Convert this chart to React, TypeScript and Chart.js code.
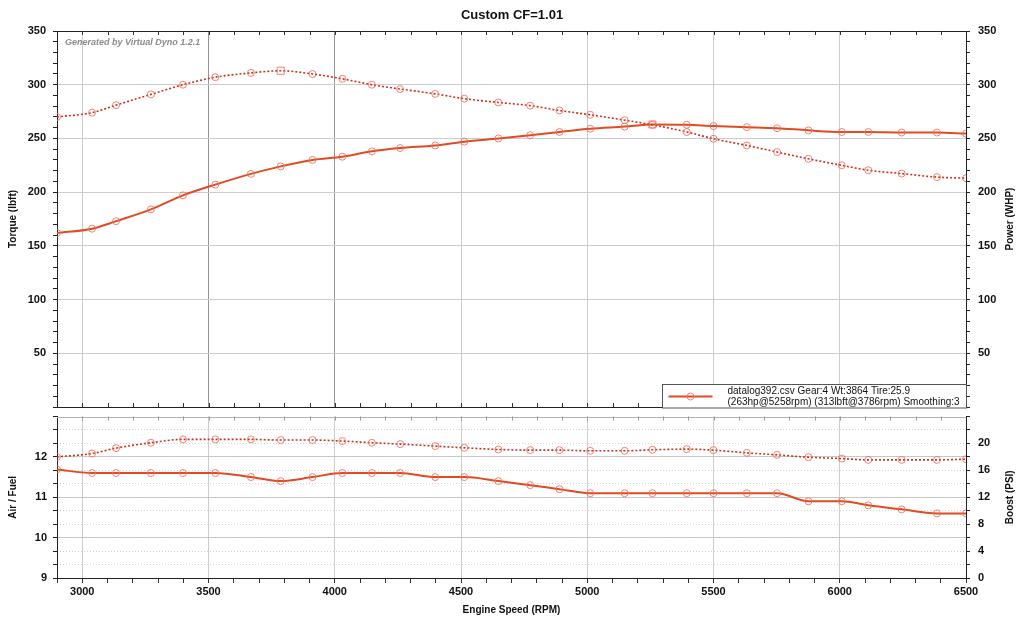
import React, { useEffect, useRef } from "react";
import { Chart, registerables } from "chart.js";

Chart.register(...registerables);

// points (rpm of every marker)
const rpm = [
  2900, 3039, 3134, 3272, 3399, 3527, 3668, 3786, 3912, 4030, 4147, 4259, 4398, 4513, 4648,
  4774, 4890, 5012, 5148, 5258, 5394, 5500, 5632, 5752, 5876, 6008, 6113, 6245, 6385, 6500,
];
const torque = [
  270, 274, 281, 291, 300, 307, 311, 313, 310, 305.5, 300, 296, 291.5, 287, 283.5,
  280.5, 276, 272, 267, 262.7, 256, 249.7, 243.5, 237.3, 231, 225, 220.4, 217.3, 214, 213,
];
const power = [
  162, 166, 173, 184, 197, 207, 217, 224, 230, 233, 238, 241, 243.5, 247, 250,
  253, 256, 259, 261, 263, 262.7, 261.5, 260.5, 259.5, 257.5, 256, 256, 255.5, 255.5, 254.5,
];
const afr = [
  11.69, 11.6, 11.6, 11.6, 11.6, 11.6, 11.5, 11.4, 11.5, 11.6, 11.6, 11.6, 11.5, 11.5, 11.4,
  11.3, 11.2, 11.1, 11.1, 11.1, 11.1, 11.1, 11.1, 11.1, 10.9, 10.9, 10.8, 10.7, 10.6, 10.6,
];
const boost = [
  18, 18.5, 19.3, 20.1, 20.6, 20.6, 20.6, 20.5, 20.5, 20.35, 20.1, 19.9, 19.6, 19.35, 19.1,
  19.0, 19.0, 18.9, 18.9, 19.05, 19.15, 19.0, 18.6, 18.3, 17.95, 17.75, 17.55, 17.55, 17.55, 17.65,
];

const rpmLabels = [3000, 3500, 4000, 4500, 5000, 5500, 6000, 6500];
const torqueLabels = [50, 100, 150, 200, 250, 300, 350];
const afrLabels = [9, 10, 11, 12];
const boostLabels = [0, 4, 8, 12, 16, 20];

const chartTitle = "Custom CF=1.01";
const watermark = "Generated by Virtual Dyno 1.2.1";
const legendLine1 = "datalog392.csv Gear:4 Wt:3864 Tire:25.9";
const legendLine2 = "(263hp@5258rpm) (313lbft@3786rpm) Smoothing:3";

const FONT = "'Liberation Sans', Arial, Helvetica, sans-serif";
const TICK_FONT = { family: FONT, size: 11, weight: "bold" as const };
const AXIS_FONT = { family: FONT, size: 10, weight: "bold" as const };
const SOLID = "#e24a22";
const DOTTED = "#c8321f";
const MARK = "rgba(238, 110, 90, 0.85)";
const GRID = "#cdcdcd";
const NONE = "rgba(0,0,0,0)";

const steps = (min: number, max: number, step: number) => {
  const out: { value: number }[] = [];
  for (let i = 0; min + i * step <= max + 1e-6; i++) out.push({ value: +(min + i * step).toFixed(4) });
  return out;
};
const has = (list: number[], v: number) => list.some((l) => Math.abs(l - v) < 1e-3);
const pts = (ys: number[]) => rpm.map((x, i) => ({ x, y: ys[i] }));

const torquePeak = torque.indexOf(Math.max(...torque));
const powerPeak = power.indexOf(Math.max(...power));

const vGrid = (v: number, dark: boolean) => {
  if (v % 500 !== 0 || v <= 2900 || v >= 6500) return NONE;
  if (dark && (v === 3500 || v === 4000)) return "#959595";
  return GRID;
};

const lineSet = (label: string, ys: number[], axis: string, dotted: boolean, peak = -1) => ({
  label,
  data: pts(ys),
  yAxisID: axis,
  borderColor: dotted ? DOTTED : SOLID,
  borderWidth: dotted ? 1.6 : 2,
  borderDash: dotted ? [2, 2] : [],
  cubicInterpolationMode: "monotone" as const,
  fill: false,
  pointStyle: (c: any) => (c.dataIndex === peak ? "rect" : "circle"),
  pointRadius: (c: any) => (c.dataIndex === peak ? 5 : 3.5),
  pointBorderWidth: 1,
  pointBorderColor: MARK,
  pointBackgroundColor: NONE,
});

const innerTicks = (chart: any, top: boolean, bottom: boolean, color: string) => {
  const { ctx, chartArea: a, scales } = chart;
  ctx.strokeStyle = color;
  ctx.lineWidth = 1;
  ctx.beginPath();
  for (let v = 3000; v < 6500; v += 100) {
    const px = Math.round(scales.x.getPixelForValue(v)) + 0.5;
    if (top) {
      ctx.moveTo(px, a.top);
      ctx.lineTo(px, a.top + 4);
    }
    if (bottom) {
      ctx.moveTo(px, a.bottom);
      ctx.lineTo(px, a.bottom - 4);
    }
  }
  ctx.stroke();
};

// right-hand axis titles read bottom to top, like the left ones
const rightTitle = (chart: any, text: string) => {
  const { ctx, chartArea: a, width } = chart;
  ctx.save();
  ctx.translate(width - 14, (a.top + a.bottom) / 2);
  ctx.rotate(-Math.PI / 2);
  ctx.font = `bold 10px ${FONT}`;
  ctx.fillStyle = "#111";
  ctx.textAlign = "center";
  ctx.textBaseline = "middle";
  ctx.fillText(text, 0, 0);
  ctx.restore();
};

const topDecor = {
  id: "topDecor",
  afterDraw(chart: any) {
    const { ctx, chartArea: a } = chart;
    ctx.save();
    ctx.strokeStyle = "#222";
    ctx.lineWidth = 1;
    ctx.beginPath();
    ctx.moveTo(a.left, Math.round(a.top) + 0.5);
    ctx.lineTo(a.right, Math.round(a.top) + 0.5);
    ctx.stroke();
    innerTicks(chart, true, true, "#333");

    ctx.font = `italic bold 9px ${FONT}`;
    ctx.fillStyle = "#8c8c8c";
    ctx.textAlign = "left";
    ctx.textBaseline = "middle";
    ctx.fillText(watermark, a.left + 8, a.top + 12);

    // legend box in the lower right corner
    const w = 304;
    const h = 23.5;
    const x0 = Math.round(a.right - w) + 0.5;
    const y0 = Math.round(a.bottom - h) + 0.5;
    ctx.fillStyle = "#fff";
    ctx.fillRect(x0, y0, w, h);
    ctx.strokeStyle = "#555";
    ctx.strokeRect(x0, y0, w, h);
    const ly = y0 + 12;
    ctx.strokeStyle = SOLID;
    ctx.lineWidth = 2;
    ctx.beginPath();
    ctx.moveTo(x0 + 6, ly);
    ctx.lineTo(x0 + 50, ly);
    ctx.stroke();
    ctx.strokeStyle = MARK;
    ctx.lineWidth = 1;
    ctx.beginPath();
    ctx.arc(x0 + 28, ly, 3.5, 0, Math.PI * 2);
    ctx.stroke();
    ctx.font = `10px ${FONT}`;
    ctx.fillStyle = "#111";
    ctx.fillText(legendLine1, x0 + 65, y0 + 6.5);
    ctx.fillText(legendLine2, x0 + 65, y0 + 17.5);
    ctx.restore();
    rightTitle(chart, "Power (WHP)");
  },
};

const bottomDecor = {
  id: "bottomDecor",
  afterDraw(chart: any) {
    const { ctx, chartArea: a } = chart;
    ctx.save();
    ctx.strokeStyle = "#b4b4b4";
    ctx.lineWidth = 1;
    ctx.beginPath();
    ctx.moveTo(a.left, Math.round(a.top) + 0.5);
    ctx.lineTo(a.right, Math.round(a.top) + 0.5);
    ctx.stroke();
    innerTicks(chart, true, false, "#999");
    ctx.restore();
    rightTitle(chart, "Boost (PSI)");
  },
};

const fitY = (width: number) => (s: any) => {
  s.width = width;
  s.paddingTop = 0;
  s.paddingBottom = 0;
};
const fitX = (height: number) => (s: any) => {
  s.height = height;
  s.paddingLeft = 0;
  s.paddingRight = 0;
};

const App: React.FC = () => {
  const topRef = useRef<HTMLCanvasElement | null>(null);
  const bottomRef = useRef<HTMLCanvasElement | null>(null);

  useEffect(() => {
    if (!topRef.current || !bottomRef.current) return;

    const top = new Chart(topRef.current, {
      type: "line",
      data: {
        datasets: [
          lineSet("Torque", torque, "y", true, torquePeak),
          lineSet("Power", power, "y1", false, powerPeak),
        ],
      },
      options: {
        responsive: false,
        animation: false,
        events: [],
        layout: { padding: 0 },
        plugins: {
          legend: { display: false },
          tooltip: { enabled: false },
          title: {
            display: true,
            text: chartTitle,
            color: "#111",
            font: { family: FONT, size: 13, weight: "bold" },
            padding: { top: 7.2, bottom: 8.2 },
          },
        },
        scales: {
          x: {
            type: "linear",
            min: 2900,
            max: 6500,
            afterBuildTicks: (s: any) => {
              s.ticks = steps(2900, 6500, 100);
            },
            afterFit: fitX(3.5),
            ticks: { display: false, autoSkip: false },
            grid: { drawTicks: false, color: (c: any) => vGrid(c.tick?.value, true) },
            border: { color: "#222" },
          },
          y: {
            type: "linear",
            position: "left",
            min: 0,
            max: 350,
            afterBuildTicks: (s: any) => {
              s.ticks = steps(0, 350, 10);
            },
            afterFit: fitY(57),
            ticks: {
              autoSkip: false,
              padding: 7,
              color: "#111",
              font: TICK_FONT,
              callback: (v: any) => (has(torqueLabels, v) ? String(v) : ""),
            },
            grid: {
              tickLength: 4,
              tickColor: "#222",
              color: (c: any) => {
                const v = c.tick?.value;
                return v % 50 === 0 && v > 0 && v < 350 ? GRID : NONE;
              },
            },
            border: { color: "#222" },
            title: { display: true, text: "Torque (lbft)", color: "#111", font: AXIS_FONT, padding: { top: 7.4, bottom: 0 } },
          },
          y1: {
            type: "linear",
            position: "right",
            min: 0,
            max: 350,
            afterBuildTicks: (s: any) => {
              s.ticks = steps(0, 350, 10);
            },
            afterFit: fitY(58),
            ticks: {
              autoSkip: false,
              padding: 8,
              color: "#111",
              font: TICK_FONT,
              callback: (v: any) => (has(torqueLabels, v) ? String(v) : ""),
            },
            grid: { drawOnChartArea: false, tickLength: 4, tickColor: "#222" },
            border: { color: "#222" },
          },
        },
      },
      plugins: [topDecor],
    });

    const bottom = new Chart(bottomRef.current, {
      type: "line",
      data: {
        datasets: [
          lineSet("Boost", boost, "boost", true),
          lineSet("Air / Fuel", afr, "afr", false),
        ],
      },
      options: {
        responsive: false,
        animation: false,
        events: [],
        layout: { padding: { top: 6.5, left: 0, right: 0, bottom: 0 } },
        plugins: {
          legend: { display: false },
          tooltip: { enabled: false },
          title: { display: false },
        },
        scales: {
          x: {
            type: "linear",
            min: 2900,
            max: 6500,
            afterBuildTicks: (s: any) => {
              s.ticks = steps(2900, 6500, 100);
            },
            afterFit: fitX(46),
            ticks: {
              autoSkip: false,
              maxRotation: 0,
              minRotation: 0,
              padding: 2,
              color: "#111",
              font: TICK_FONT,
              callback: (v: any) => (has(rpmLabels, v) ? String(v) : ""),
            },
            grid: { tickLength: 5, tickColor: "#333", color: (c: any) => vGrid(c.tick?.value, false) },
            border: { color: "#222" },
            title: { display: true, text: "Engine Speed (RPM)", color: "#111", font: AXIS_FONT, padding: { top: 0, bottom: 8 } },
          },
          afr: {
            type: "linear",
            position: "left",
            min: 9,
            max: 13,
            afterBuildTicks: (s: any) => {
              s.ticks = steps(9, 13, 1 / 3);
            },
            afterFit: fitY(57),
            ticks: {
              autoSkip: false,
              padding: 6,
              color: "#111",
              font: TICK_FONT,
              callback: (v: any) => (has(afrLabels, v) ? String(Math.round(v)) : ""),
            },
            grid: {
              tickLength: 4,
              tickColor: "#222",
              color: (c: any) => {
                const v = c.tick?.value;
                return has([10, 11, 12], v) ? "#c2c2c2" : NONE;
              },
            },
            border: { color: "#222" },
            title: { display: true, text: "Air / Fuel", color: "#111", font: AXIS_FONT, padding: { top: 7.4, bottom: 0 } },
          },
          boost: {
            type: "linear",
            position: "right",
            min: 0,
            max: 24,
            afterBuildTicks: (s: any) => {
              s.ticks = steps(0, 24, 2);
            },
            afterFit: fitY(58),
            ticks: {
              autoSkip: false,
              padding: 8,
              color: "#111",
              font: TICK_FONT,
              callback: (v: any) => (has(boostLabels, v) ? String(v) : ""),
            },
            grid: {
              tickLength: 4,
              tickColor: "#222",
              color: (c: any) => {
                const v = c.tick?.value;
                return v > 0 && v < 24 ? "#d2d2d2" : NONE;
              },
            },
            border: { color: "#222", dash: [1, 2] },
          },
        },
      },
      plugins: [bottomDecor],
    });

    return () => {
      top.destroy();
      bottom.destroy();
    };
  }, []);

  return (
    <div style={{ position: "fixed", left: 0, top: 0, width: 1024, height: 624, background: "#fff" }}>
      <canvas ref={topRef} width={1024} height={412} style={{ position: "absolute", left: 0, top: 0 }} />
      <canvas ref={bottomRef} width={1024} height={214} style={{ position: "absolute", left: 0, top: 410 }} />
    </div>
  );
};

export default App;
